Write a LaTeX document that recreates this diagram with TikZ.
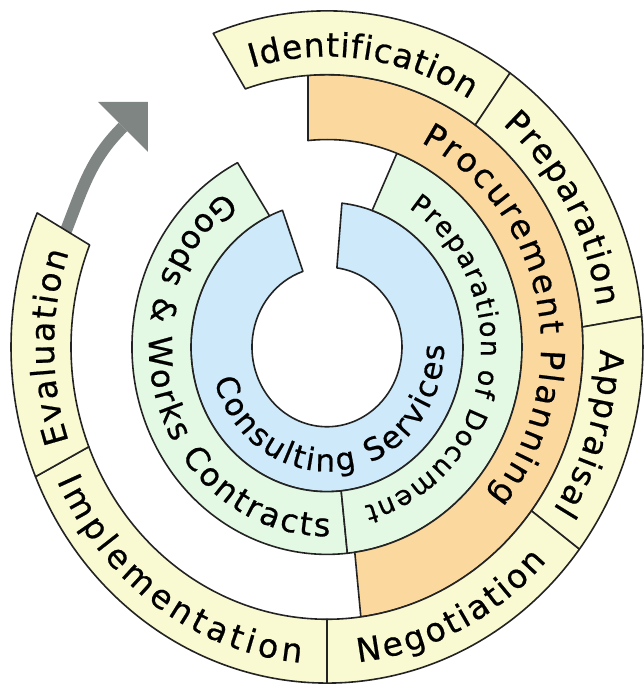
\documentclass[tikz,border=0pt]{standalone}
\usepackage{fontspec}
\setmainfont{DejaVu Sans}[FakeBold=0.6]
\usetikzlibrary{decorations.text}
\definecolor{ylw}{RGB}{250,250,210}
\definecolor{org}{RGB}{250,216,158}
\definecolor{grn}{RGB}{228,249,228}
\definecolor{blu}{RGB}{205,233,250}
\definecolor{edgec}{RGB}{35,35,35}
\definecolor{arrowgray}{RGB}{127,133,130}
\newcommand\rf{\fontsize{33}{38}\selectfont}
\newcommand\gf{\fontsize{32}{38}\selectfont}
\newcommand\cf{\fontsize{31}{36}\selectfont}
\newcommand\pdf{\fontsize{27}{32}\selectfont}
\tikzset{
  seg/.style={fill=#1, draw=edgec, line width=1.6pt, line join=round},
  ringtext/.style={decorate, decoration={text along path, text={#1}, text align=fit to path}},
}
\begin{document}
\begin{tikzpicture}[x=1pt,y=1pt,yscale=1.0637]
\useasboundingbox (-327,-317.8) rectangle (317,326.2);
% arrow
\coordinate (tip) at (-179,230.3);
\coordinate (barbA) at (-229,230.3);
\coordinate (barbB) at (-179,183.3);
\coordinate (shaftstart) at (158:283);
\coordinate (shaftend) at (-204,206.8);
\draw[arrowgray, line width=12pt] (shaftstart) to[out=67, in=223] (shaftend);
\fill[arrowgray] (tip) -- (barbA) -- (barbB) -- cycle;
% blue ring
\draw[seg=blu] (109.1:136) arc[start angle=109.1, end angle=443.7, radius=136] -- (442.4:75) arc[start angle=442.4, end angle=108.7, radius=75] -- cycle;
% green ring
\draw[seg=grn] (117.3:195) arc[start angle=117.3, end angle=276, radius=195] -- (276:136) arc[start angle=276, end angle=115, radius=136] -- cycle;
\draw[seg=grn] (69:195) arc[start angle=69, end angle=-84, radius=195] -- (-84:136) arc[start angle=-84, end angle=70.6, radius=136] -- cycle;
% orange ring
\draw[seg=org] (94.26:256) arc[start angle=94.26, end angle=-82.4, radius=256] -- (-81.8:195) arc[start angle=-81.8, end angle=95.6, radius=195] -- cycle;
% outer ring
\draw[seg=ylw] (111.1:316) arc[start angle=111.1, end angle=54.6, radius=316] -- (54.6:256) arc[start angle=54.6, end angle=108.6, radius=256] -- cycle;
\draw[seg=ylw] (54.6:316) arc[start angle=54.6, end angle=5.2, radius=316] -- (4.2:256) arc[start angle=4.2, end angle=54.6, radius=256] -- cycle;
\draw[seg=ylw] (5.2:316) arc[start angle=5.2, end angle=-37, radius=316] -- (-37:256) arc[start angle=-37, end angle=4.2, radius=256] -- cycle;
\draw[seg=ylw] (-37:316) arc[start angle=-37, end angle=-90, radius=316] -- (-90:256) arc[start angle=-90, end angle=-37, radius=256] -- cycle;
\draw[seg=ylw] (-90:316) arc[start angle=-90, end angle=-157.3, radius=316] -- (-158.5:256) arc[start angle=-158.5, end angle=-90, radius=256] -- cycle;
\draw[seg=ylw] (-157.3:316) arc[start angle=-157.3, end angle=-203.5, radius=316] -- (-202:256) arc[start angle=-202, end angle=-158.5, radius=256] -- cycle;
% texts
\path[ringtext={|\rf|Identification}] (106:273) arc[start angle=106, end angle=58.5, radius=273];
\path[ringtext={|\rf|Preparation}] (50:273) arc[start angle=50, end angle=8, radius=273];
\path[ringtext={|\rf|Appraisal}] (-0.5:273) arc[start angle=-0.5, end angle=-34, radius=273];
\path[ringtext={|\rf|Negotiation}] (-84:298) arc[start angle=-84, end angle=-42.5, radius=298];
\path[ringtext={|\rf|Implementation}] (205:298) arc[start angle=205, end angle=265, radius=298];
\path[ringtext={|\rf|Evaluation}] (199:273) arc[start angle=199, end angle=161, radius=273];
\path[ringtext={|\rf|Procurement Planning}] (64:214) arc[start angle=64, end angle=-41, radius=214];
\path[ringtext={|\gf|Goods {\&} Works Contracts}] (125:178) arc[start angle=125, end angle=271, radius=178];
\path[ringtext={|\pdf|Preparation of Document}] (58:154) arc[start angle=58, end angle=-76, radius=154];
\path[ringtext={|\cf|Consulting Services}] (195.5:117) arc[start angle=195.5, end angle=361, radius=117];
\end{tikzpicture}
\end{document}
